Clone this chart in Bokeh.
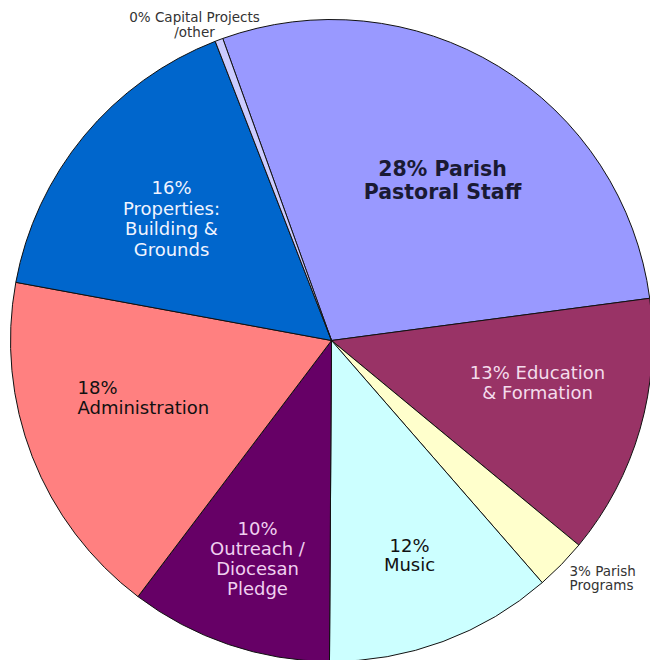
import math
from bokeh.plotting import figure
from bokeh.models import Range1d
from bokeh.core.properties import value
from bokeh.embed import file_html
from bokeh.resources import INLINE

# Data (clockwise from the top)
categories = ["Parish Pastoral Staff", "Education & Formation", "Parish Programs", "Music",
              "Outreach / Diocesan Pledge", "Administration", "Properties: Building & Grounds",
              "Capital Projects /other"]
shares = [28.4, 13.1, 2.6, 11.5, 10.2, 17.6, 16.2, 0.4]
colors = ["#9999FF", "#993366", "#FFFFCC", "#CCFFFF", "#660066", "#FF8080", "#0066CC", "#CCCCFF"]

# label lines, style, position (pixel coords from top-left)
labels = [
    (["28% Parish", "Pastoral Staff"], 442, 168, 23, "#1a1a33", "bold", 20.5, "center"),
    (["13% Education", "& Formation"], 537, 372, 20, "#F4DCEC", "normal", 18, "center"),
    (["3% Parish", "Programs"], 569, 570, 14, "#333333", "normal", 13.5, "left"),
    (["12%", "Music"], 409, 545, 19, "#111111", "normal", 18, "center"),
    (["10%", "Outreach /", "Diocesan", "Pledge"], 257, 528, 20, "#F0D0F0", "normal", 18, "center"),
    (["18%", "Administration"], 77, 387, 20, "#111111", "normal", 18, "left"),
    (["16%", "Properties:", "Building &", "Grounds"], 171, 187, 20.5, "#F0F4FF", "normal", 18, "center"),
    (["0% Capital Projects", "/other"], 194, 16, 15, "#333333", "normal", 13.5, "center"),
]

W, H = 650, 660
cx, cy, r = 331, H - 340, 321
start_deg = 90 + 19.8

p = figure(width=W, height=H, output_backend="svg", toolbar_location=None,
           x_range=Range1d(0, W), y_range=Range1d(0, H), min_border=0)
p.axis.visible = False
p.grid.visible = False
p.outline_line_color = None
p.background_fill_color = "white"
p.border_fill_color = "white"

total = sum(shares)
starts, ends = [], []
a = math.radians(start_deg)
for s in shares:
    da = 2 * math.pi * s / total
    starts.append(a)
    ends.append(a - da)
    a -= da

p.wedge(x=cx, y=cy, radius=r, start_angle=starts, end_angle=ends, direction="clock",
        fill_color=colors, line_color="#111111", line_width=1)

for lines, x, y, lh, col, weight, size, align in labels:
    for i, t in enumerate(lines):
        p.text(x=[x], y=[H - (y + i * lh)], text=[t], text_font=value("DejaVu Sans"),
               text_font_size=f"{size}px", text_font_style=weight, text_color=col,
               text_align=align, text_baseline="middle")

open("out.html", "w").write(file_html(p, INLINE))
